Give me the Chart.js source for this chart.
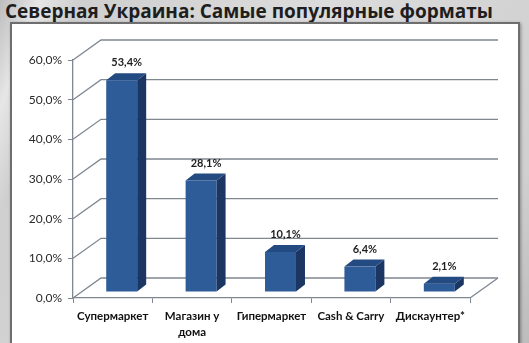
<!DOCTYPE html>
<html>
<head>
<meta charset="utf-8">
<script src="https://cdn.jsdelivr.net/npm/chart.js@4"></script>
<style>
  html, body { margin: 0; padding: 0; }
  body {
    width: 529px; height: 343px; overflow: hidden; position: relative;
    background: linear-gradient(110deg, #bdbdbd 0%, #e6e6e6 6%, #cfcfcf 12%, #dcdcdc 50%, #d0d0d0 90%, #bcbcbc 100%);
    font-family: "Open Sans", sans-serif;
  }
  #title {
    position: absolute; left: 5px; top: -2px; margin: 0;
    font-size: 19px; font-weight: 700; color: #1e1e1e; white-space: nowrap;
  }
  #panel {
    position: absolute; left: 10px; top: 22px; width: 506px; height: 340px;
    background: #fff; border: 2px solid #6e6e6e;
    box-shadow: 1px 1px 3px rgba(0,0,0,0.35);
  }
  #wrap { position: absolute; left: 0; top: 0; width: 529px; height: 343px; }
</style>
</head>
<body>
<h1 id="title">Северная Украина: Самые популярные форматы</h1>
<div id="panel"></div>
<div id="wrap"><canvas id="chart"></canvas></div>
<script>
const categories = ['Супермаркет', ['Магазин у', 'дома'], 'Гипермаркет', 'Cash & Carry', 'Дискаунтер*'];
const shares = [53.4, 28.1, 10.1, 6.4, 2.1];
const valueLabels = ['53,4%', '28,1%', '10,1%', '6,4%', '2,1%'];

// 3D look: wall depth and where the bars sit inside it
const WALL_DX = 28, WALL_DY = 20;
const BAR_SHIFT_X = 9, BAR_SHIFT_Y = 6;
const BAR_DX = 9, BAR_DY = 7;

const fmtPct = v => v.toFixed(1).replace('.', ',') + '%';

const wallPlugin = {
    id: 'wall',
    beforeDatasetsDraw(chart) {
        const { ctx, chartArea: a, scales: { y } } = chart;
        ctx.save();
        ctx.strokeStyle = '#7f8790';
        ctx.lineWidth = 1.3;
        y.ticks.forEach(t => {
            const py = y.getPixelForValue(t.value);
            ctx.beginPath();
            ctx.moveTo(a.left, py);
            ctx.lineTo(a.left + WALL_DX, py - WALL_DY);
            ctx.lineTo(a.right + WALL_DX, py - WALL_DY);
            ctx.stroke();
        });
        // right edge of the floor
        ctx.beginPath();
        ctx.moveTo(a.right, a.bottom);
        ctx.lineTo(a.right + WALL_DX, a.bottom - WALL_DY);
        ctx.stroke();
        ctx.restore();
        // bars are drawn a bit inside the depth
        ctx.save();
        ctx.translate(BAR_SHIFT_X, -BAR_SHIFT_Y);
    },
    afterDatasetsDraw(chart) {
        const { ctx } = chart;
        const bars = chart.getDatasetMeta(0).data;
        bars.forEach(bar => {
            const l = bar.x - bar.width / 2, r = bar.x + bar.width / 2;
            // side face
            ctx.fillStyle = '#1b3663';
            ctx.beginPath();
            ctx.moveTo(r, bar.y);
            ctx.lineTo(r + BAR_DX, bar.y - BAR_DY);
            ctx.lineTo(r + BAR_DX, bar.base - BAR_DY);
            ctx.lineTo(r, bar.base);
            ctx.closePath();
            ctx.fill();
            // top face
            ctx.fillStyle = '#244a82';
            ctx.beginPath();
            ctx.moveTo(l, bar.y);
            ctx.lineTo(l + BAR_DX, bar.y - BAR_DY);
            ctx.lineTo(r + BAR_DX, bar.y - BAR_DY);
            ctx.lineTo(r, bar.y);
            ctx.closePath();
            ctx.fill();
        });
        ctx.restore();
        // value labels
        ctx.save();
        ctx.font = 'bold 11px Lato';
        ctx.fillStyle = '#1e1e1e';
        ctx.textAlign = 'center';
        ctx.textBaseline = 'bottom';
        bars.forEach((bar, i) => {
            ctx.fillText(valueLabels[i], bar.x + BAR_SHIFT_X + 5, bar.y - BAR_SHIFT_Y - 12);
        });
        ctx.restore();
    }
};

new Chart(document.getElementById('chart'), {
    type: 'bar',
    data: {
        labels: categories,
        datasets: [{
            data: shares,
            backgroundColor: '#2e5c99',
            barPercentage: 0.39,
            categoryPercentage: 1
        }]
    },
    options: {
        responsive: true,
        maintainAspectRatio: false,
        animation: false,
        layout: { padding: { top: 60, right: 59, left: 0, bottom: 0 } },
        plugins: { legend: { display: false }, tooltip: { enabled: false } },
        scales: {
            y: {
                min: 0, max: 60,
                afterFit: s => { s.width = 73; },
                ticks: {
                    stepSize: 10, padding: 6, color: '#2a2a2a',
                    font: { family: 'Lato', size: 12 },
                    callback: v => fmtPct(v)
                },
                grid: { drawOnChartArea: false, tickLength: 5, color: '#7f8790' },
                border: { color: '#7f8790', width: 1.3 }
            },
            x: {
                afterFit: s => { s.height = 45; },
                ticks: {
                    padding: 6, color: '#111',
                    maxRotation: 0, autoSkip: false,
                    font: { family: 'Lato', size: 11.5, weight: 'bold', lineHeight: 1.35 }
                },
                grid: { drawOnChartArea: false, tickLength: 5, color: '#7f8790' },
                border: { color: '#7f8790', width: 1.3 }
            }
        }
    },
    plugins: [wallPlugin]
});
</script>
</body>
</html>
